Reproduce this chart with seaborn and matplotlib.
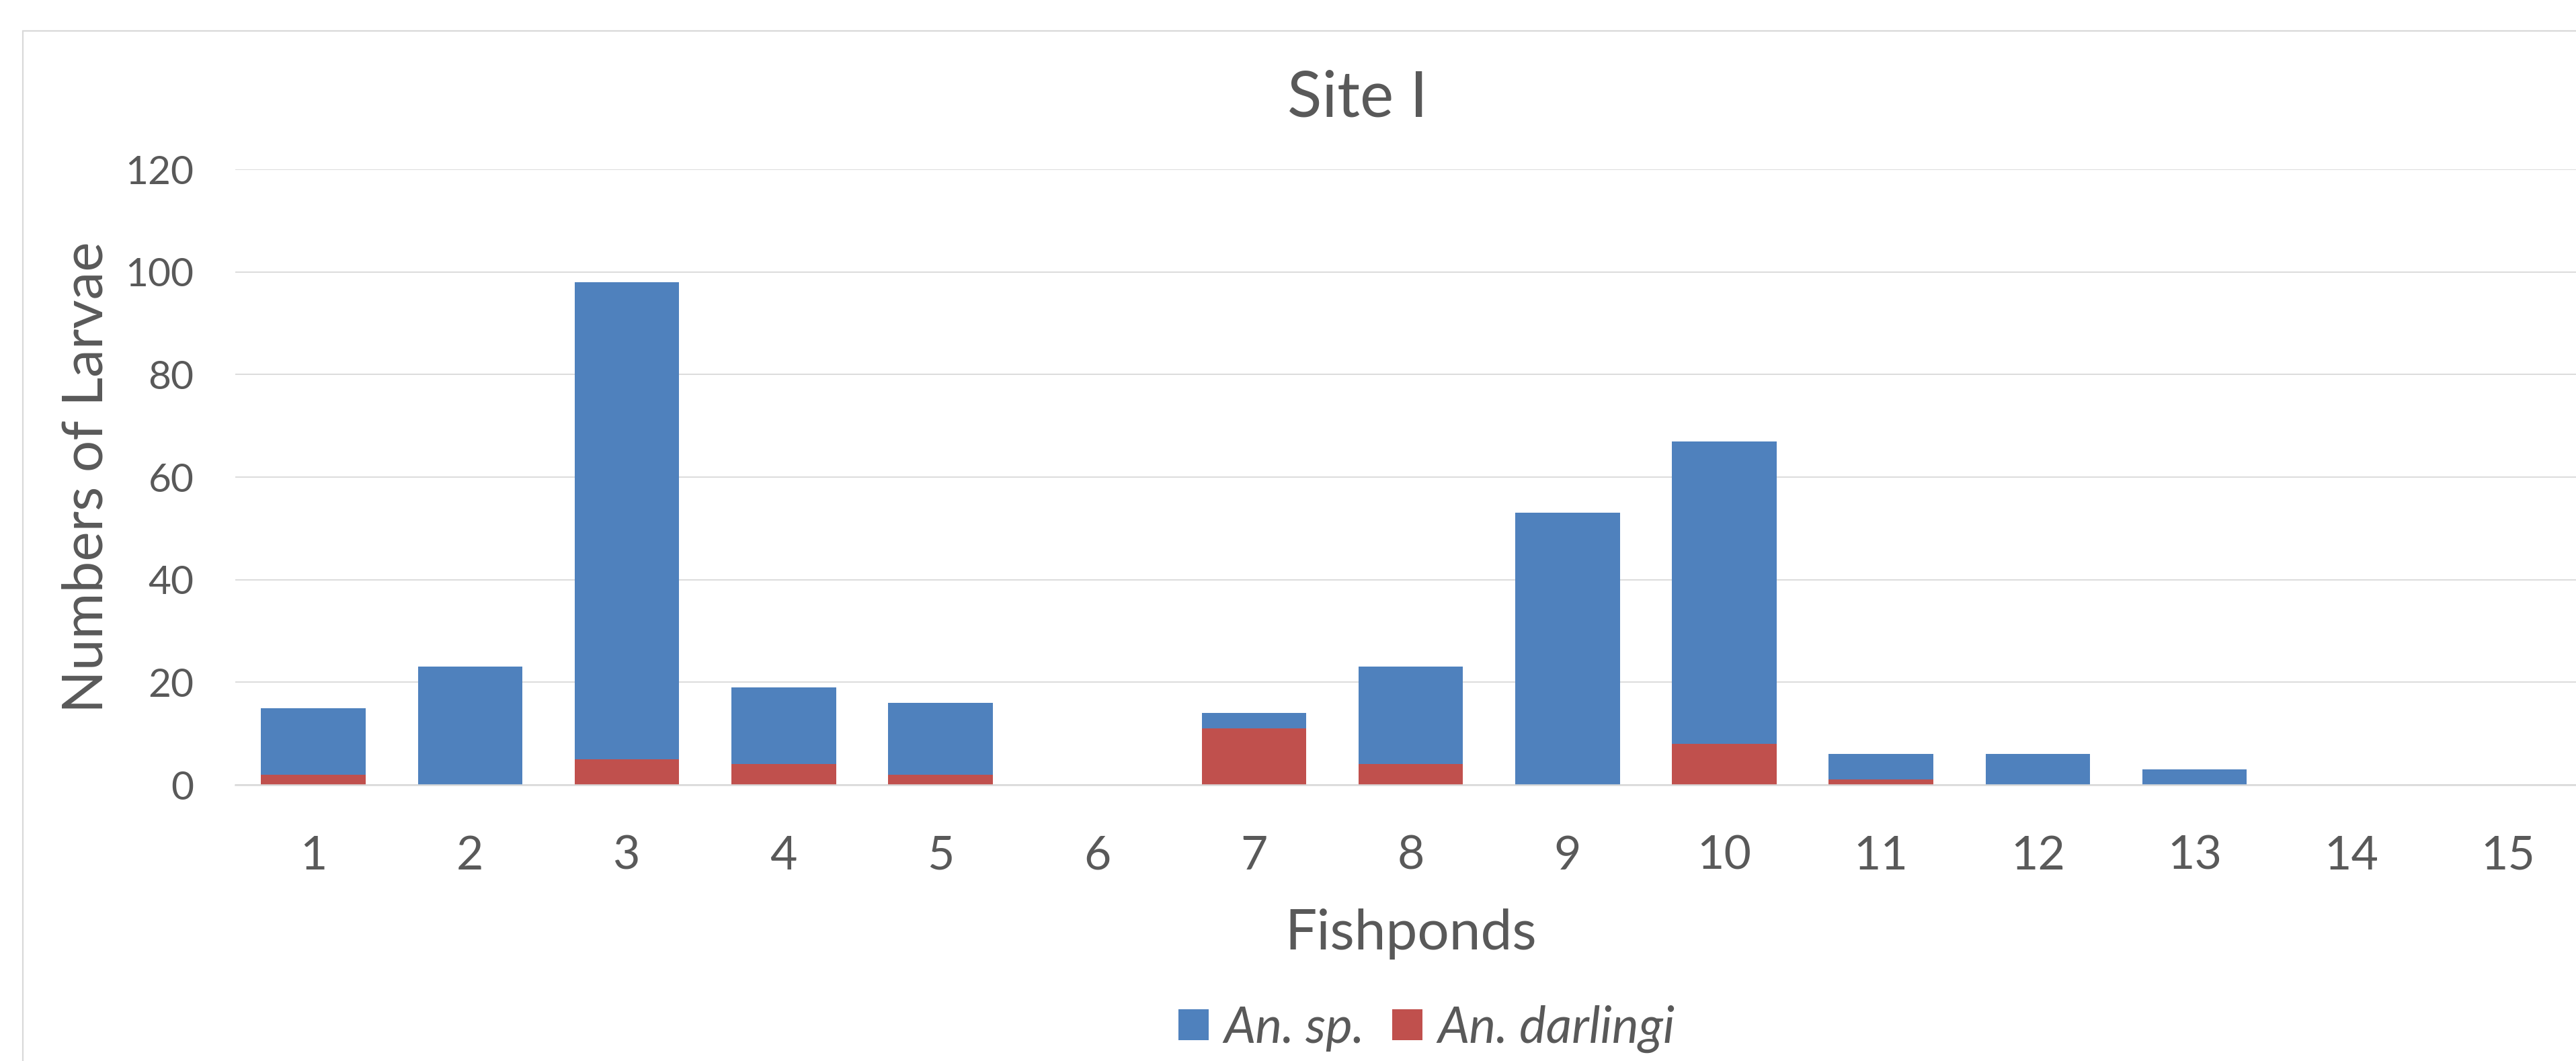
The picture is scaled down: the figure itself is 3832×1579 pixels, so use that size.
import matplotlib
matplotlib.use("Agg")
import matplotlib.pyplot as plt
from matplotlib.patches import Rectangle, Patch
import seaborn as sns
import pandas as pd

# Larvae counts per fishpond, Site I
fishponds = [str(i) for i in range(1, 16)]
an_sp = [13, 23, 93, 15, 14, 0, 3, 19, 53, 59, 5, 6, 3, 0, 0]
an_darlingi = [2, 0, 5, 4, 2, 0, 11, 4, 0, 8, 1, 0, 0, 0, 0]
y_ticks = [0, 20, 40, 60, 80, 100, 120]

BLUE = "#4F81BD"
RED = "#C0504D"
TEXT = "#595959"
GRID = "#D9D9D9"

sns.set_theme(style="white")
plt.rcParams["font.family"] = ["Lato", "DejaVu Sans"]

df = pd.DataFrame({
    "pond": fishponds,
    "sp": an_sp,
    "darlingi": an_darlingi,
})
df["total"] = df["sp"] + df["darlingi"]

W, H = 3832, 1579
fig = plt.figure(figsize=(W / 100, H / 100), dpi=100)
fig.patch.set_facecolor("white")

# chart-area frame
fig.patches.append(Rectangle((34 / W, -0.2), 1.2, 1.2 - 46 / H,
                             transform=fig.transFigure, fill=False,
                             edgecolor=GRID, linewidth=1.6, zorder=0))

ax_left = 349.6 / W
ax_w = 3498 / W
ax_bottom = 1 - 1168 / H
ax_h = 916 / H
ax = fig.add_axes([ax_left, ax_bottom, ax_w, ax_h])
ax.set_facecolor("none")

# stacked bars: full column in blue, An. darlingi share on the bottom in red
sns.barplot(data=df, x="pond", y="total", order=fishponds, color=BLUE,
            saturation=1, width=0.667, linewidth=0, ax=ax, zorder=3)
sns.barplot(data=df, x="pond", y="darlingi", order=fishponds, color=RED,
            saturation=1, width=0.667, linewidth=0, ax=ax, zorder=4)

ax.set_xlim(-0.5, len(fishponds) - 0.5)
ax.set_ylim(0, 120)
ax.set_yticks(y_ticks)
ax.set_yticklabels([str(t) for t in y_ticks])

ax.yaxis.grid(True, color=GRID, linewidth=1.3, zorder=0)
ax.xaxis.grid(False)
ax.set_axisbelow(True)
for s in ["top", "right", "left"]:
    ax.spines[s].set_visible(False)
ax.spines["bottom"].set_color(GRID)
ax.spines["bottom"].set_linewidth(1.8)
ax.spines["bottom"].set_zorder(5)

ax.tick_params(axis="y", length=0, pad=44, labelsize=42.2, labelcolor=TEXT)
ax.tick_params(axis="x", length=0, pad=54, labelsize=50.2, labelcolor=TEXT)

ax.set_xlabel("Fishponds", fontsize=60.3, color=TEXT, va="baseline")
ax.xaxis.set_label_coords(0.5, -(1413 - 1168) / 916)
ax.set_ylabel("Numbers of Larvae", fontsize=60.3, color=TEXT, va="baseline")
ax.yaxis.set_label_coords((153 - 349.6) / 3498, 0.5)

ax.set_title("Site I", fontsize=68.3, color=TEXT, va="baseline",
             x=(2019 - 349.6) / 3498, y=1 + (252 - 182) / 916)

handles = [Patch(facecolor=BLUE, edgecolor="none", label="An. sp."),
           Patch(facecolor=RED, edgecolor="none", label="An. darlingi")]
leg = fig.legend(handles=handles, loc="lower center", ncol=2, frameon=False,
                 bbox_to_anchor=(2122 / W, 1 - 1567 / H),
                 prop={"style": "italic", "size": 54},
                 handlelength=0.6, handleheight=0.57, handletextpad=0.3,
                 columnspacing=0.55, borderpad=0, borderaxespad=0)
for t in leg.get_texts():
    t.set_color(TEXT)

fig.savefig("out.png", dpi=100, facecolor="white")
